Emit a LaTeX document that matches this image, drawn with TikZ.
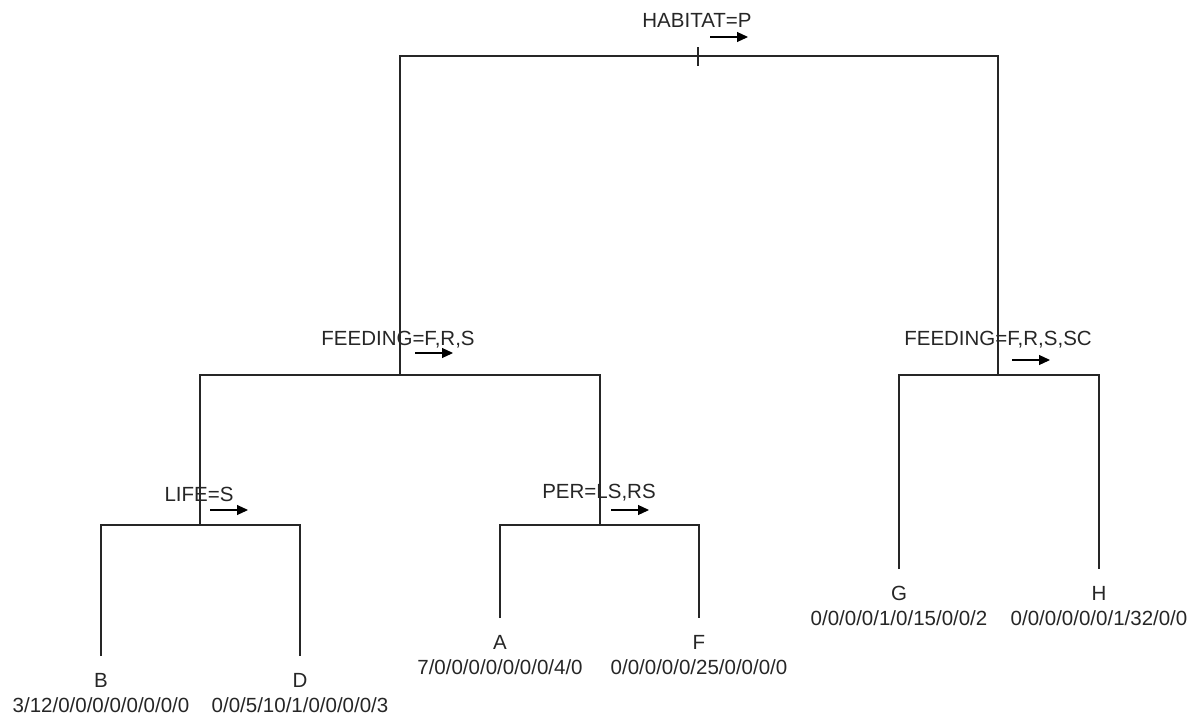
\documentclass[tikz,border=0pt]{standalone}
\usepackage{fontspec}
\setmainfont{Liberation Sans}
\usetikzlibrary{arrows.meta}
\begin{document}
\begin{tikzpicture}[x=1pt,y=-1pt,
  tree/.style={draw=black!85, line width=1.3pt},
  lbl/.style={font=\fontsize{20.5}{25}\selectfont, text=black!85, inner sep=0pt},
  leaf/.style={font=\fontsize{20.5}{25}\selectfont, text=black!85, align=center, inner sep=0pt, outer ysep=17pt, anchor=north},
  dirarrow/.style={draw=black, line width=1.1pt, -{Triangle[length=11pt,width=10pt]}}]
\path[use as bounding box] (0,0) rectangle (1194,718);
% split points
\coordinate (r) at (699,56);
\coordinate (n1) at (400,375);
\coordinate (n2) at (998,375);
\coordinate (n3) at (200,525);
\coordinate (n4) at (600,525);
% split labels
\node[lbl] (lr) at (697,20) {HABITAT=P};
\node[lbl] (l1) at (398,340) {FEEDING=F,R,S};
\node[lbl] (l2) at (998,340) {FEEDING=F,R,S,SC};
\node[lbl] (l3) at (199,494) {LIFE=S};
\node[lbl] (l4) at (599,493) {PER=LS,RS};
% direction arrows
\draw[dirarrow] (r) ++(11,-19) -- ++(38,0);
\draw[dirarrow] (n1) ++(15,-22) -- ++(38,0);
\draw[dirarrow] (n2) ++(14,-15) -- ++(38,0);
\draw[dirarrow] (n3) ++(10,-15) -- ++(38,0);
\draw[dirarrow] (n4) ++(11,-15) -- ++(38,0);
% root tick
\draw[tree] (r) ++(-1,-9) -- ++(0,19);
% leaves
\node[leaf] (B) at (101,656) {B\\3/12/0/0/0/0/0/0/0/0};
\node[leaf] (D) at (300,656) {D\\0/0/5/10/1/0/0/0/0/3};
\node[leaf] (A) at (500,618) {A\\7/0/0/0/0/0/0/0/4/0};
\node[leaf] (F) at (699,618) {F\\0/0/0/0/0/25/0/0/0/0};
\node[leaf] (G) at (899,569) {G\\0/0/0/0/1/0/15/0/0/2};
\node[leaf] (H) at (1099,569) {H\\0/0/0/0/0/0/1/32/0/0};
% connectors
\draw[tree] (n1) |- (r) -| (n2);
\draw[tree] (n3) |- (n1) -| (n4);
\draw[tree] (B.north) |- (n3) -| (D.north);
\draw[tree] (A.north) |- (n4) -| (F.north);
\draw[tree] (G.north) |- (n2) -| (H.north);
\end{tikzpicture}
\end{document}
